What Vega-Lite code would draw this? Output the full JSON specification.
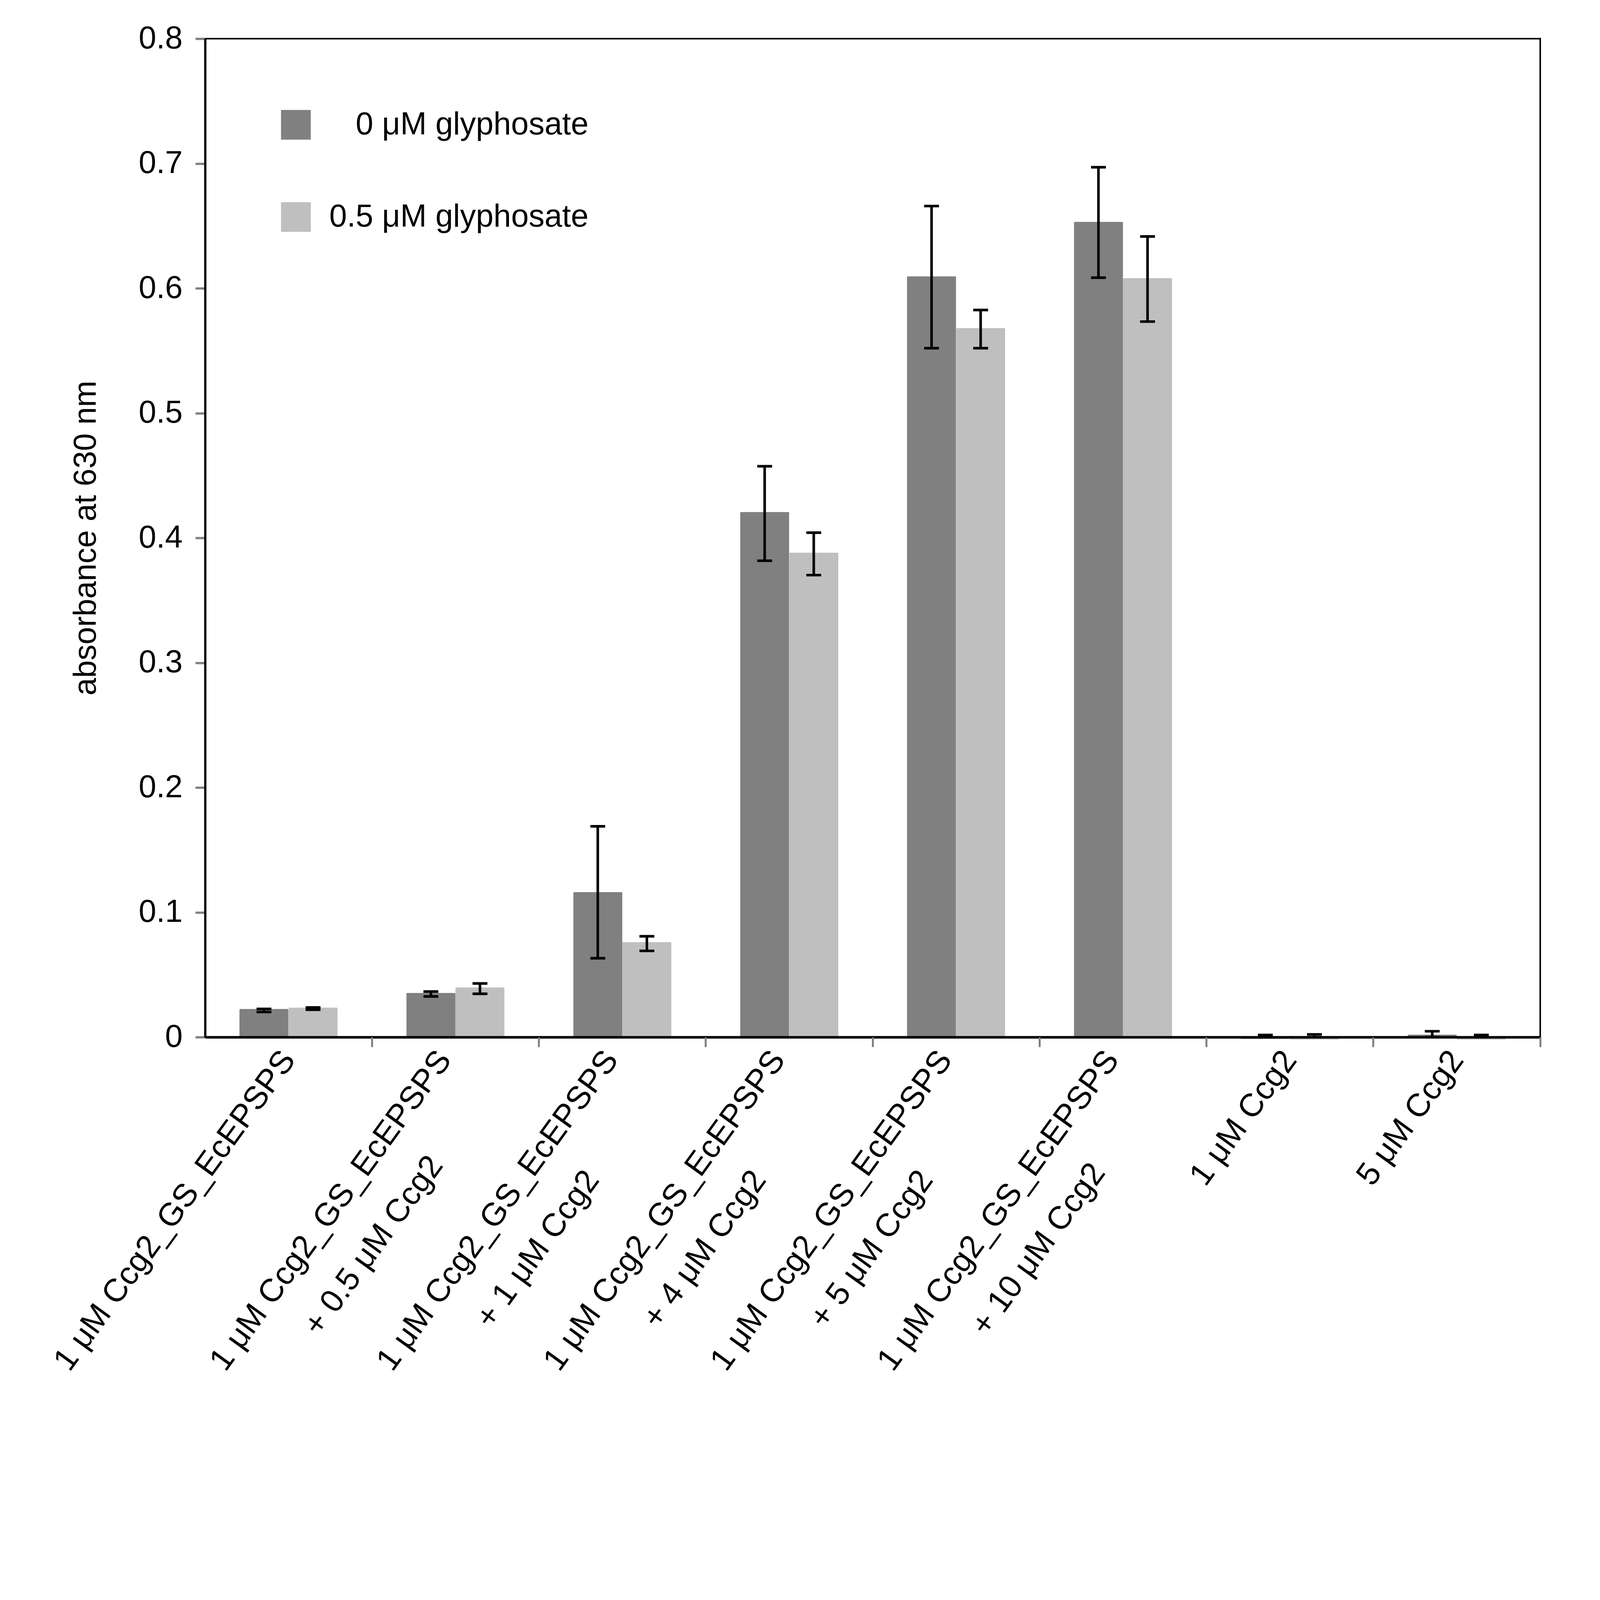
{
  "$schema": "https://vega.github.io/schema/vega-lite/v6.json",
  "autosize": "none",
  "padding": {"left": 525, "top": 99, "right": 153, "bottom": 949},
  "width": 3418,
  "height": 2556,
  "background": "white",
  "config": {
    "font": "Liberation Sans",
    "view": {"stroke": "#000000", "strokeWidth": 4},
    "axis": {"grid": false, "labelColor": "#000000", "titleColor": "#000000", "labelFont": "Liberation Sans", "titleFont": "Liberation Sans"}
  },
  "data": {
    "values": [
      {"sample": "1 μM Ccg2_GS_EcEPSPS", "glyphosate": "0 μM glyphosate", "value": 0.0225, "lo": 0.0201, "hi": 0.0226},
      {"sample": "1 μM Ccg2_GS_EcEPSPS", "glyphosate": "0.5 μM glyphosate", "value": 0.0237, "lo": 0.0219, "hi": 0.0238},
      {"sample": "1 μM Ccg2_GS_EcEPSPS + 0.5 μM Ccg2", "glyphosate": "0 μM glyphosate", "value": 0.0354, "lo": 0.0326, "hi": 0.0365},
      {"sample": "1 μM Ccg2_GS_EcEPSPS + 0.5 μM Ccg2", "glyphosate": "0.5 μM glyphosate", "value": 0.0398, "lo": 0.0347, "hi": 0.043},
      {"sample": "1 μM Ccg2_GS_EcEPSPS + 1 μM Ccg2", "glyphosate": "0 μM glyphosate", "value": 0.1163, "lo": 0.0632, "hi": 0.1689},
      {"sample": "1 μM Ccg2_GS_EcEPSPS + 1 μM Ccg2", "glyphosate": "0.5 μM glyphosate", "value": 0.0762, "lo": 0.0691, "hi": 0.0808},
      {"sample": "1 μM Ccg2_GS_EcEPSPS + 4 μM Ccg2", "glyphosate": "0 μM glyphosate", "value": 0.4208, "lo": 0.3817, "hi": 0.4574},
      {"sample": "1 μM Ccg2_GS_EcEPSPS + 4 μM Ccg2", "glyphosate": "0.5 μM glyphosate", "value": 0.3883, "lo": 0.3702, "hi": 0.4042},
      {"sample": "1 μM Ccg2_GS_EcEPSPS + 5 μM Ccg2", "glyphosate": "0 μM glyphosate", "value": 0.6096, "lo": 0.552, "hi": 0.6659},
      {"sample": "1 μM Ccg2_GS_EcEPSPS + 5 μM Ccg2", "glyphosate": "0.5 μM glyphosate", "value": 0.5681, "lo": 0.552, "hi": 0.5826},
      {"sample": "1 μM Ccg2_GS_EcEPSPS + 10 μM Ccg2", "glyphosate": "0 μM glyphosate", "value": 0.6532, "lo": 0.6085, "hi": 0.697},
      {"sample": "1 μM Ccg2_GS_EcEPSPS + 10 μM Ccg2", "glyphosate": "0.5 μM glyphosate", "value": 0.6081, "lo": 0.5733, "hi": 0.6415},
      {"sample": "1 μM Ccg2", "glyphosate": "0 μM glyphosate", "value": -0.0015, "lo": 0, "hi": 0.0017},
      {"sample": "1 μM Ccg2", "glyphosate": "0.5 μM glyphosate", "value": -0.002, "lo": 0, "hi": 0.0022},
      {"sample": "5 μM Ccg2", "glyphosate": "0 μM glyphosate", "value": 0.002, "lo": 0, "hi": 0.0047},
      {"sample": "5 μM Ccg2", "glyphosate": "0.5 μM glyphosate", "value": -0.002, "lo": 0, "hi": 0.0017}
    ]
  },
  "layer": [
    {
      "mark": {"type": "bar", "cornerRadiusTopLeft": 2.5, "cornerRadiusTopRight": 2.5},
      "encoding": {
        "x": {
          "field": "sample",
          "type": "nominal",
          "scale": {
            "domain": [
              "1 μM Ccg2_GS_EcEPSPS",
              "1 μM Ccg2_GS_EcEPSPS + 0.5 μM Ccg2",
              "1 μM Ccg2_GS_EcEPSPS + 1 μM Ccg2",
              "1 μM Ccg2_GS_EcEPSPS + 4 μM Ccg2",
              "1 μM Ccg2_GS_EcEPSPS + 5 μM Ccg2",
              "1 μM Ccg2_GS_EcEPSPS + 10 μM Ccg2",
              "1 μM Ccg2",
              "5 μM Ccg2"
            ],
            "paddingInner": 0,
            "paddingOuter": 0
          },
          "axis": {
            "title": null,
            "orient": "bottom",
            "ticks": false,
            "tickSize": 0,
            "domain": true,
            "domainColor": "#000000",
            "domainWidth": 6.6,
            "labelAngle": -54,
            "labelAlign": "right",
            "labelBaseline": "top",
            "labelFontSize": 83,
            "labelLineHeight": 141,
            "labelPadding": 20,
            "labelOffset": {"condition": {"test": "indexof(datum.value, ' + ') >= 0", "value": -61}, "value": -33},
            "labelLimit": 3000,
            "labelOverlap": false,
            "labelBound": false,
            "labelExpr": "indexof(datum.label, ' + ') < 0 ? datum.label : [substring(datum.label, 0, indexof(datum.label, ' + ')), substring(datum.label, indexof(datum.label, ' + ') + 1) + substring('\u00a0\u00a0\u00a0\u00a0\u00a0\u00a0\u00a0\u00a0\u00a0\u00a0\u00a0\u00a0\u00a0\u00a0\u00a0\u00a0', 0, 24 - length(datum.label) + indexof(datum.label, ' + ')) + '\u200b']",
            "zindex": 1
          }
        },
        "xOffset": {
          "field": "glyphosate",
          "type": "nominal",
          "scale": {"domain": ["0 μM glyphosate", "0.5 μM glyphosate"], "paddingInner": 0, "paddingOuter": 0.7}
        },
        "y": {
          "field": "value",
          "type": "quantitative",
          "title": "absorbance at 630 nm",
          "scale": {"domain": [0, 0.8], "nice": false, "zero": true},
          "axis": {
            "values": [0, 0.1, 0.2, 0.3, 0.4, 0.5, 0.6, 0.7, 0.8],
            "format": "~g",
            "labelFontSize": 81,
            "labelPadding": 33,
            "tickColor": "#808080",
            "tickWidth": 5.8,
            "tickSize": 25,
            "domainColor": "#000000",
            "domainWidth": 5.8,
            "titleFontSize": 81,
            "titleFontWeight": "normal",
            "titlePadding": 93,
            "zindex": 1
          }
        },
        "fill": {
          "field": "glyphosate",
          "type": "nominal",
          "scale": {"domain": ["0 μM glyphosate", "0.5 μM glyphosate"], "range": ["#808080", "#bfbfbf"]},
          "legend": {
            "title": null,
            "orient": "none",
            "legendX": 192,
            "legendY": 180,
            "padding": 0,
            "symbolType": "square",
            "symbolSize": 5808,
            "symbolStrokeWidth": 0,
            "labelFontSize": 81,
            "labelColor": "#000000",
            "labelOffset": 45,
            "labelLimit": 2000,
            "rowPadding": 154,
            "labelExpr": "datum.label == '0 μM glyphosate' ? '\u200b\u00a0\u00a0\u00a0' + datum.label : datum.label"
          }
        }
      }
    },
    {
      "mark": {"type": "rule", "color": "#000000", "strokeWidth": 6.6},
      "encoding": {
        "x": {
          "field": "sample",
          "type": "nominal",
          "axis": {
            "title": null,
            "orient": "bottom",
            "labels": false,
            "domain": false,
            "ticks": true,
            "bandPosition": 1,
            "tickColor": "#808080",
            "tickWidth": 5,
            "tickSize": 25,
            "zindex": 1
          }
        },
        "xOffset": {"field": "glyphosate", "type": "nominal"},
        "y": {"field": "lo", "type": "quantitative", "title": "absorbance at 630 nm"},
        "y2": {"field": "hi"}
      }
    },
    {
      "mark": {"type": "tick", "color": "#000000", "size": 38, "thickness": 6.6, "opacity": 1, "orient": "horizontal"},
      "encoding": {
        "x": {"field": "sample", "type": "nominal", "axis": null},
        "xOffset": {"field": "glyphosate", "type": "nominal"},
        "y": {"field": "lo", "type": "quantitative", "title": "absorbance at 630 nm"}
      }
    },
    {
      "mark": {"type": "tick", "color": "#000000", "size": 38, "thickness": 6.6, "opacity": 1, "orient": "horizontal"},
      "encoding": {
        "x": {"field": "sample", "type": "nominal", "axis": null},
        "xOffset": {"field": "glyphosate", "type": "nominal"},
        "y": {"field": "hi", "type": "quantitative", "title": "absorbance at 630 nm"}
      }
    }
  ],
  "resolve": {"axis": {"x": "independent"}}
}
